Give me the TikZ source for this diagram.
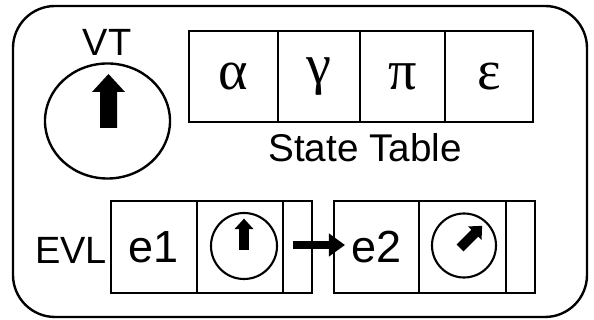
\documentclass[tikz,border=0pt]{standalone}
\usepackage{fontspec}
\setmainfont{Liberation Sans}
\newfontfamily\greekfont{Liberation Serif}
\usetikzlibrary{shapes.geometric, arrows.meta}

% clock hand, base at the origin, pointing up
\tikzset{hand/.pic={\fill (-8.5,0) -- (8.5,0) -- (8.5,36) -- (16.5,36) -- (0,54) -- (-16.5,36) -- (-8.5,36) -- cycle;}}

\begin{document}
\begin{tikzpicture}[x=0.025cm, y=0.025cm, line width=1.7pt,
  cell/.style={draw, inner sep=0pt, outer sep=0pt},
  sym/.style={font=\greekfont\fontsize{40}{40}\selectfont},
  lbl/.style={font=\fontsize{27}{27}\selectfont},
  evt/.style={font=\fontsize{32}{32}\selectfont},
  dial/.style={draw, circle, inner sep=0pt, line width=1.5pt}]
\useasboundingbox (0,0) rectangle (594,320);

\draw[rounded corners=1.05cm] (13,3) rectangle (587,314);

% virtual time
\node[lbl] (vt) at (107,278) {VT};
\node[draw, ellipse, inner sep=0pt, minimum width=3.125cm, minimum height=2.875cm] (clk) at (107.5,199) {};
\pic at (108.5,192) {hand};

% state table
\node[cell, sym, minimum width=2.225cm, minimum height=2.275cm] (t1) at (233.5,243.5) {α};
\node[cell, sym, minimum width=2.05cm, minimum height=2.275cm] (t2) at (319,243.5) {γ};
\node[cell, sym, minimum width=2.125cm, minimum height=2.275cm] (t3) at (402.5,243.5) {π};
\node[cell, sym, minimum width=2.2cm, minimum height=2.275cm] (t4) at (489,243.5) {ε};
\node[font=\fontsize{27.5}{27.5}\selectfont] (st) at (365,172) {State Table};

% event list
\node[lbl] (evl) at (71,70) {EVL};

\node[cell, evt, minimum width=2.15cm, minimum height=2.3cm] (e1) at (154,73) {e1};
\node[cell, minimum width=2.15cm, minimum height=2.3cm] (d1) at (240,73) {};
\node[cell, minimum width=0.725cm, minimum height=2.3cm] (p1) at (297.5,73) {};

\node[cell, evt, minimum width=2.125cm, minimum height=2.3cm] (e2) at (376.5,73) {e2};
\node[cell, minimum width=2.175cm, minimum height=2.3cm] (d2) at (462.5,73) {};
\node[cell, minimum width=0.725cm, minimum height=2.3cm] (p2) at (520.5,73) {};

\node[dial, minimum size=1.65cm] (c1) at (244,74) {};
\pic[scale=0.58] at (244,70) {hand};
\node[dial, minimum size=1.6cm] (c2) at (464,74.5) {};
\pic[scale=0.58, rotate=-45] at (460,72) {hand};

\draw[-{Triangle[length=0.4cm, width=0.55cm]}, line width=0.2cm] ([xshift=-0.11cm, yshift=0.05cm]p1.center) -- ([xshift=0.275cm, yshift=0.05cm]e2.west);

\end{tikzpicture}
\end{document}
